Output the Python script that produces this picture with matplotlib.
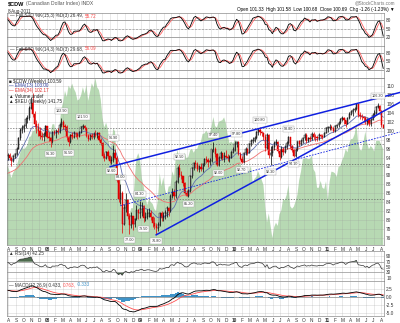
import numpy as np
import pandas as pd
import matplotlib
matplotlib.use('Agg')
import matplotlib.pyplot as plt

plt.rcParams['font.family'] = ['Liberation Sans', 'DejaVu Sans']

W, H = 400, 323

# weekly closes of $CDW, one row per month
cdw_close = [
    85.3, 84.9, 84.9, 84.8,  85.6, 85.8, 86.3, 85.5,  85.0, 85.2, 85.6, 86.4, 86.7,
    87.4, 88.3, 88.6, 90.0,  90.6, 91.0, 92.3, 93.2,  93.9, 94.1, 93.3, 93.1, 93.9,
    94.8, 95.5, 95.6, 94.3,  94.6, 94.0, 93.2, 94.4, 94.7,  96.0, 98.3, 100.2, 100.5,
    101.0, 102.6, 102.8, 105.0,  106.3, 103.8, 101.5, 100.9, 100.0,  98.8, 98.5, 99.2, 101.0,
    # 2008
    98.7, 98.3, 97.6, 99.7,  99.5, 99.9, 99.8, 101.3, 102.0,  100.9, 100.8, 98.5, 97.5,
    99.0, 98.7, 99.4, 99.2,  98.8, 99.6, 100.8, 101.0, 100.6,  98.9, 98.1, 99.0, 98.5,
    99.2, 99.0, 99.5, 98.0,  97.3, 94.4, 94.0, 95.2, 94.3,  93.2, 93.5, 95.0, 94.0,
    89.0, 84.8, 86.0, 79.2, 82.8,  84.5, 81.0, 79.0, 80.9,  79.1, 80.2, 82.2, 81.5,
    # 2009
    82.5, 83.2, 80.5, 80.8, 81.5,  81.5, 80.6, 79.4, 78.6,  78.3, 79.0, 81.5, 80.5,
    81.0, 81.7, 82.6, 82.1,  85.5, 86.2, 85.3, 88.6, 91.6,  90.2, 89.8, 88.3, 86.0,
    85.5, 86.5, 89.8, 91.6, 92.8,  92.5, 91.4, 91.8, 91.4,  92.5, 93.6, 93.5, 93.0,
    93.3, 95.8, 96.0, 94.8, 92.4,  94.0, 94.9, 94.0, 94.4,  94.2, 94.0, 94.0, 95.2,
    # 2010
    95.6, 97.0, 97.5, 94.8, 93.7,  93.1, 95.0, 95.8, 95.1,  97.0, 97.7, 97.8, 98.4,
    99.6, 100.1, 99.6, 99.4, 98.5,  96.2, 99.0, 94.5, 94.9,  96.4, 97.3, 97.4, 95.4,
    94.2, 95.8, 95.2, 96.3, 97.3,  98.5, 96.5, 95.6, 94.4,  95.7, 97.6, 97.0, 97.8,
    98.3, 99.1, 97.8, 98.4, 98.1,  99.3, 98.6, 98.5, 98.3,  99.0, 98.9, 98.7, 99.5, 100.6,
    # 2011
    100.7, 100.9, 100.7, 100.0,  101.0, 101.2, 101.8, 102.6,  102.8, 102.4, 101.6, 102.8,
    103.8, 104.2, 104.6, 104.9, 105.9,  103.5, 103.3, 103.0, 102.9,  101.9, 102.6, 101.4, 102.5,
    103.6, 104.0, 105.3, 105.6, 104.5,  101.33, 100.69,
]
cdw_high = [
    86.0, 85.6, 85.3, 85.2,  85.9, 86.2, 86.6, 86.5,  85.8, 85.6, 86.0, 86.7, 87.0,
    87.6, 88.5, 89.0, 90.3,  90.9, 91.3, 92.5, 93.6,  94.4, 94.7, 94.3, 93.8, 94.2,
    95.0, 95.8, 96.2, 95.8,  95.0, 94.9, 94.2, 94.6, 95.1,  96.3, 98.6, 100.6, 101.2,
    101.6, 103.0, 103.6, 105.5,  107.6, 108.4, 104.5, 102.3, 101.8,  100.8, 99.8, 99.8, 101.3,
    101.1, 99.6, 98.7, 100.0,  100.2, 100.3, 100.6, 101.7, 102.9,  102.3, 101.6, 101.3, 98.9,
    99.3, 99.7, 99.9, 99.8,  99.6, 100.0, 101.1, 101.5, 101.3,  100.9, 99.3, 99.3, 99.5,
    99.6, 100.2, 99.8, 99.7,  98.3, 97.5, 95.0, 95.5, 95.6,  94.5, 94.3, 96.9, 95.8,
    94.3, 89.5, 88.0, 86.5, 83.5,  86.0, 84.8, 81.5, 81.8,  81.0, 80.5, 83.4, 82.4,
    84.3, 84.0, 83.4, 81.8, 82.5,  82.6, 82.3, 81.0, 80.6,  79.3, 79.5, 81.9, 82.0,
    81.8, 82.2, 83.1, 83.0,  85.8, 87.2, 87.0, 88.9, 92.0,  92.5, 91.0, 89.9, 88.5,
    86.8, 86.9, 90.0, 91.9, 93.0,  93.4, 93.0, 92.3, 92.7,  92.8, 93.9, 94.3, 93.8,
    93.8, 96.0, 97.4, 96.4, 95.0,  94.3, 95.4, 95.1, 95.2,  95.6, 94.8, 94.5, 95.4,
    96.4, 97.6, 97.8, 97.7, 95.3,  94.3, 95.3, 96.3, 96.2,  97.2, 98.2, 98.6, 98.8,
    99.9, 100.5, 100.8, 100.0, 99.8,  99.3, 99.4, 99.2, 96.5,  96.8, 97.6, 98.2, 97.6,
    95.8, 96.6, 96.4, 96.7, 97.6,  98.8, 98.6, 96.9, 95.9,  96.1, 97.8, 97.9, 98.1,
    98.6, 99.5, 99.4, 98.6, 98.9,  99.8, 99.6, 99.2, 98.9,  99.5, 99.3, 99.3, 99.8, 100.8,
    101.0, 101.4, 101.3, 100.9,  101.3, 101.5, 102.1, 102.9,  103.2, 103.0, 102.5, 103.1,
    104.1, 104.7, 105.0, 105.3, 106.2,  106.0, 104.2, 103.8, 103.4,  103.2, 102.9, 102.8, 102.8,
    103.9, 104.6, 105.6, 106.3, 105.8,  104.7, 101.58,
]
cdw_low = [
    85.0, 84.6, 84.5, 84.4,  84.6, 85.2, 85.5, 85.2,  84.6, 84.7, 84.9, 85.3, 86.1,
    86.5, 87.1, 88.0, 88.4,  89.6, 90.1, 90.8, 92.0,  92.9, 93.2, 92.8, 92.7, 92.9,
    93.6, 94.5, 95.1, 93.8,  93.5, 93.5, 92.0, 93.0, 94.0,  94.5, 95.8, 98.0, 99.4,
    99.8, 100.6, 101.8, 102.5,  104.8, 103.0, 100.8, 99.5, 98.9,  98.2, 97.9, 97.6, 98.9,
    98.3, 97.6, 96.3, 97.2,  99.0, 98.4, 99.2, 99.5, 100.9,  100.4, 100.0, 97.9, 96.5,
    97.2, 98.1, 98.3, 98.5,  98.2, 98.5, 99.4, 100.3, 100.1,  98.5, 97.6, 97.9, 98.1,
    98.2, 98.7, 98.4, 97.7,  96.8, 94.0, 93.3, 93.6, 93.6,  92.8, 92.6, 93.0, 93.6,
    88.5, 84.0, 83.6, 77.2, 78.8,  81.8, 80.2, 77.0, 78.3,  77.8, 78.4, 80.0, 80.3,
    80.5, 81.0, 79.5, 79.8, 80.2,  80.7, 80.0, 78.5, 78.0,  76.8, 77.5, 78.6, 79.8,
    79.8, 80.2, 80.8, 81.0,  81.9, 85.0, 84.8, 85.0, 88.3,  89.6, 89.1, 87.6, 85.8,
    85.3, 85.2, 86.2, 89.5, 91.2,  91.7, 90.9, 90.7, 90.9,  90.8, 92.0, 92.8, 91.9,
    92.3, 93.0, 95.3, 94.2, 92.2,  92.0, 93.6, 93.4, 93.1,  94.0, 93.2, 93.0, 93.8,
    95.0, 95.4, 96.3, 94.5, 93.4,  92.7, 92.8, 94.5, 94.6,  94.9, 96.6, 97.2, 97.5,
    98.1, 99.0, 99.1, 98.9, 97.9,  95.5, 95.9, 94.0, 92.3,  94.3, 95.6, 96.9, 95.0,
    93.5, 93.9, 94.6, 94.9, 96.0,  97.1, 96.2, 95.2, 94.1,  94.2, 95.5, 96.5, 96.7,
    97.2, 97.9, 97.3, 97.4, 97.8,  98.0, 98.1, 97.8, 97.7,  97.9, 98.4, 98.2, 98.5, 99.4,
    99.8, 100.2, 100.2, 99.6,  99.8, 100.5, 100.9, 101.5,  102.1, 101.6, 100.9, 101.5,
    102.6, 103.5, 103.4, 104.1, 104.7,  103.0, 102.7, 102.3, 101.9,  101.5, 101.3, 101.1, 101.0,
    102.3, 103.0, 103.8, 105.0, 104.3,  100.9, 100.68,
]
# weekly $XEU closes, same weeks
xeu_close = [
    130.5, 129.8, 129.6, 129.8,  131.0, 130.9, 131.6, 132.2,  131.6, 131.0, 132.6, 133.0, 133.6,
    134.3, 135.4, 136.2, 136.4,  135.6, 135.1, 134.9, 134.6,  135.1, 133.9, 133.3, 134.5, 135.4,
    136.7, 137.7, 138.2, 137.0,  137.6, 136.3, 134.6, 135.9, 136.6,  137.6, 139.2, 140.9, 142.6,
    141.7, 142.2, 142.8, 144.8,  145.0, 146.3, 146.4, 148.2, 146.6,  146.3, 146.1, 143.6, 147.2,
    147.5, 146.6, 146.2, 148.0,  148.0, 145.1, 146.6, 148.0, 151.8,  153.5, 156.3, 154.8, 157.6,
    156.8, 158.1, 156.8, 155.9,  153.9, 154.2, 155.2, 157.2, 155.6,  157.8, 153.8, 156.0, 158.2,
    157.1, 159.5, 157.2, 156.5,  154.2, 149.6, 147.2, 148.4, 146.8,  142.2, 142.7, 146.9, 146.2,
    137.9, 134.3, 134.2, 125.0, 127.4,  127.3, 126.2, 125.2, 127.1,  127.1, 134.3, 139.6, 140.8,
    139.2, 134.5, 132.6, 129.8, 127.9,  129.4, 128.6, 128.2, 126.9,  126.4, 129.4, 135.8, 132.6,
    134.8, 131.8, 130.3, 132.5,  132.6, 136.3, 135.0, 139.8, 141.6,  138.9, 139.9, 139.8, 140.9,
    139.5, 139.9, 141.5, 141.9, 140.9,  141.8, 141.9, 143.3, 143.6,  145.6, 145.7, 146.4, 145.7,
    145.6, 147.5, 149.8, 147.5, 147.2,  148.6, 148.8, 149.0, 149.7,  148.2, 145.4, 143.3, 143.7,
    143.2, 144.1, 143.8, 141.4, 138.6,  136.4, 136.0, 136.1, 136.3,  136.4, 137.6, 133.5, 134.4,
    134.9, 136.3, 135.2, 134.2, 132.9,  127.5, 123.6, 125.8, 122.7,  119.7, 122.4, 123.5, 122.7,
    125.6, 126.6, 129.4, 129.1, 130.4,  132.9, 127.6, 127.0, 127.5,  128.8, 130.5, 134.1, 136.2,
    139.3, 139.5, 139.6, 139.3, 139.4,  140.2, 136.8, 136.0, 132.2,  132.2, 133.9, 132.2, 131.9, 133.8,
    129.1, 133.7, 136.2, 136.1,  135.8, 134.9, 137.4, 137.6,  139.0, 140.0, 141.8, 141.0,
    143.2, 144.3, 144.4, 145.5, 148.0,  143.4, 141.6, 141.5, 143.7,  146.2, 143.3, 141.8, 142.6,
    142.1, 141.2, 143.8, 143.9, 143.8,  142.8, 141.75,
]

# trendlines: (date, price) end points
upper_line = [('2008-09-03', 91.95), ('2011-10-12', 108.55)]
lower_line = [('2009-03-02', 76.7), ('2011-10-12', 106.35)]
channel_line = [('2008-10-12', 83.2), ('2011-10-12', 99.7)]
level_lines = [100.54, 97.03, 92.49, 84.72]

# swing points that get a price tag: (from, to) search windows
tag_highs = [('2008-02-01', '2008-03-10'), ('2008-05-01', '2008-06-01'), ('2008-09-01', '2008-10-01'),
             ('2008-10-10', '2008-10-16'), ('2008-12-28', '2009-01-20'), ('2009-06-01', '2009-06-15'),
             ('2009-10-01', '2009-11-01'), ('2010-01-01', '2010-02-01'), ('2010-04-01', '2010-05-01'),
             ('2010-07-25', '2010-08-15'), ('2011-07-01', '2011-08-01')]
tag_lows = [('2008-01-10', '2008-02-01'), ('2008-03-10', '2008-04-01'), ('2008-09-01', '2008-09-20'),
            ('2008-11-10', '2008-11-30'), ('2009-01-10', '2009-01-31'), ('2009-02-25', '2009-03-10'),
            ('2009-06-20', '2009-07-15'), ('2009-10-25', '2009-11-05'), ('2010-01-25', '2010-02-15'),
            ('2010-05-15', '2010-06-01'), ('2010-08-10', '2010-09-05')]

dates = pd.date_range(end='2011-08-08', periods=len(cdw_close), freq='7D')
close = pd.Series(cdw_close, index=dates)
high = pd.Series(cdw_high, index=dates)
low = pd.Series(cdw_low, index=dates)
opn = close.shift(1).fillna(85.6)
xeu = pd.Series(xeu_close, index=dates)

ema13 = close.ewm(span=13, adjust=False).mean()
ema34 = close.ewm(span=34, adjust=False).mean()


def full_sto(n):
    ll = low.rolling(n).min()
    hh = high.rolling(n).max()
    fast = 100 * (close - ll) / (hh - ll)
    k = fast.rolling(3).mean()
    return k, k.rolling(3).mean()


k15, d15 = full_sto(15)
k14, d14 = full_sto(14)

delta = close.diff()
gain = delta.clip(lower=0).ewm(alpha=1 / 14, adjust=False).mean()
loss = (-delta.clip(upper=0)).ewm(alpha=1 / 14, adjust=False).mean()
rsi = 100 - 100 / (1 + gain / loss)

macd = close.ewm(span=12, adjust=False).mean() - close.ewm(span=26, adjust=False).mean()
signal = macd.ewm(span=9, adjust=False).mean()
hist = macd - signal

x0, x1 = pd.Timestamp('2007-07-27'), pd.Timestamp('2011-08-11')
months = pd.date_range('2007-08-01', '2011-08-01', freq='MS')
month_labels = [m.strftime('%y') if m.month == 1 else m.strftime('%b')[0] for m in months]

fig = plt.figure(figsize=(W / 100, H / 100), dpi=100)
renderer = fig.canvas.get_renderer()


def px_axes(left, top, right, bottom):
    return fig.add_axes([left / W, 1 - bottom / H, (right - left) / W, (bottom - top) / H])


def ftext(x, y, s, **kw):
    kw.setdefault('fontsize', 3.3)
    kw.setdefault('va', 'center')
    return fig.text(x / W, 1 - y / H, s, **kw)


def seg_text(x, y, parts, gap=1.2, **kw):
    # consecutive runs of text in different colours
    for s, color in parts:
        t = ftext(x, y, s, color=color, **kw)
        x += t.get_window_extent(renderer).width + gap


GRID = dict(color='#999999', alpha=0.3, lw=0.5)
TAG = dict(fontsize=2.7, color='#333333', ha='center',
           bbox=dict(boxstyle='square,pad=0.25', fc='white', ec='#a0a0a0', lw=0.3))


def style(ax, ylim, yticks, ylabels):
    ax.set_xlim(x0, x1)
    ax.set_ylim(*ylim)
    ax.set_xticks(months)
    ax.set_xticklabels([])
    ax.set_yticks(yticks)
    ax.set_yticklabels(ylabels)
    ax.yaxis.tick_right()
    ax.tick_params(length=0, labelsize=3.4, pad=1.5, colors='#333333')
    ax.grid(True, **GRID)
    ax.set_axisbelow(True)
    for sp in ax.spines.values():
        sp.set_color('#8c8c8c')
        sp.set_linewidth(0.5)


def month_axis(ax):
    ax.set_xticklabels(month_labels)
    ax.tick_params(axis='x', pad=1.2)
    for lbl, m in zip(ax.get_xticklabels(), months):
        if m.month == 1:
            lbl.set_fontweight('bold')


# stochastic panels
for (top, bottom), k, d in [((13, 46), k15, d15), ((46, 78), k14, d14)]:
    ax = px_axes(7, top, 384, bottom)
    style(ax, (-10, 106), [20, 50, 80], ['20', '50', '80'])
    for lvl in (20, 80):
        ax.axhline(lvl, color='#9a9a9a', lw=0.6)
    ax.axhline(50, color='#9a9a9a', lw=0.5, ls=(0, (3, 2)))
    ax.plot(d.index, d.values, color='#ff6060', lw=0.6)
    ax.plot(k.index, k.values, color='black', lw=0.6)

# price panel with the $XEU area on its own scale behind it
ax = px_axes(7, 78, 384, 245)
ax_x = ax.twinx()
ax_x.set_zorder(ax.get_zorder() - 1)
ax.patch.set_visible(False)
ax_x.set_xlim(x0, x1)
ax_x.set_ylim(117.96, 159.5)
ax_x.fill_between(xeu.index, xeu.values, 0, color='#7dba76', alpha=0.55, lw=0)
ax_x.axis('off')
style(ax, (74.43, 111.79), np.arange(76, 111, 2), [str(v) for v in range(76, 111, 2)])
month_axis(ax)

for lvl in level_lines:
    ax.axhline(lvl, color='#666666', lw=0.5, ls=(0, (2, 2)))

ax.plot(ema34.index, ema34.values, color='#f07070', lw=0.6)
ax.plot(ema13.index, ema13.values, color='#6070b0', lw=0.6)

up = close >= opn
ax.vlines(dates, low, high, color=np.where(up, 'black', '#e00000'), lw=0.5)
body = (close - opn).abs().clip(lower=0.15)
base = np.minimum(close, opn)
ax.bar(dates[up], body[up], bottom=base[up], width=5, color='white', edgecolor='#222222', lw=0.35)
ax.bar(dates[~up], body[~up], bottom=base[~up], width=5, color='#e00000', edgecolor='#e00000', lw=0.35)

for line, lw, ls in [(upper_line, 1.1, '-'), (lower_line, 1.1, '-'), (channel_line, 0.6, (0, (2, 1.5)))]:
    xs = [pd.Timestamp(d) for d, _ in line]
    ys = [p for _, p in line]
    ax.plot(xs, ys, color='#1020e0', lw=lw, ls=ls, clip_on=False, zorder=5)

for a, b in tag_highs:
    t = high[a:b].idxmax()
    ax.annotate(f'{high[t]:.2f}', (t, high[t]), xytext=(0, 3.5), textcoords='offset points',
                va='bottom', zorder=6, **TAG)
for a, b in tag_lows:
    t = low[a:b].idxmin()
    ax.annotate(f'{low[t]:.2f}', (t, low[t]), xytext=(0, -3.5), textcoords='offset points',
                va='top', zorder=6, **TAG)

# RSI panel
ax = px_axes(7, 251, 384, 281)
style(ax, (-2, 110), [10, 30, 50, 70, 90], ['10', '30', '50', '70', '90'])
ax.axhline(70, color='#9a9a9a', lw=0.5)
ax.axhline(30, color='#9a9a9a', lw=0.5)
ax.fill_between(rsi.index, rsi.values, 70, where=rsi.values > 70, color='#4d6b4d', lw=0, interpolate=True)
ax.fill_between(rsi.index, rsi.values, 30, where=rsi.values < 30, color='#4d6b4d', lw=0, interpolate=True)
ax.plot(rsi.index, rsi.values, color='#333333', lw=0.5)

# MACD panel
ax = px_axes(7, 281, 384, 316)
style(ax, (-6.1, 5.2), [-5, -2.5, 0, 2.5], ['-5.0', '-2.5', '0.0', '2.5'])
month_axis(ax)
ax.bar(hist.index, hist.values, width=7, color='#3f93c8', lw=0)
ax.axhline(0, color='#777777', lw=0.4)
ax.plot(signal.index, signal.values, color='#ff5050', lw=0.6)
ax.plot(macd.index, macd.values, color='black', lw=0.6)

# header and legends
seg_text(8, 4, [('$CDW', 'black')], fontweight='bold', fontsize=4.0)
ftext(26, 4, '(Canadian Dollar Index) INDX', color='#555555', fontsize=3.6)
ftext(8, 11, '8-Aug-2011', color='#333333')
ftext(395, 3, '@StockCharts.com', color='#777777', ha='right')
ftext(395, 10, 'Open 101.33  High 101.58  Low 100.68  Close 100.69  Chg -1.26 (-1.23%) \u25bc',
      ha='right', fontsize=3.3)

seg_text(10, 16, [('\u2014 Full STO %K(15,3) %D(3) 26.49,', '#333333'), ('55.72', '#ff5050')])
seg_text(10, 49, [('\u2014 Full STO %K(14,3) %D(3) 29.68,', '#333333'), ('56.09', '#ff5050')])

ftext(9, 81, '\u25a0 $CDW (Weekly) 100.59', color='#222222')
ftext(9, 86, '\u2014 EMA(13) 103.00', color='#3040a0')
ftext(9, 91, '\u2014 EMA(34) 102.17', color='#e03030')
ftext(9, 96, '\u25b2 Volume undef', color='#222222')
ftext(9, 101, '\u25b2 $XEU (Weekly) 141.75', color='#222222')

ftext(9, 254, '\u25b2 RSI(14) 42.25', color='#333333')
seg_text(9, 285, [('\u2014 MACD(12,26,9) 0.433,', '#333333'), ('0.763,', '#ff5050'), ('-0.333', '#3f93c8')])

fig.savefig('out.png', dpi=100)
